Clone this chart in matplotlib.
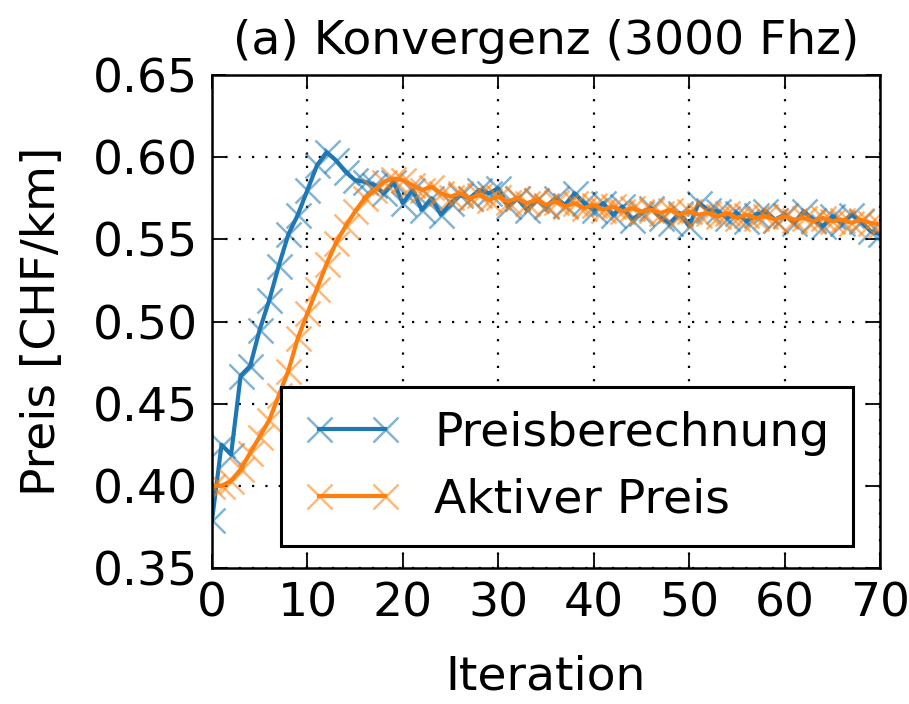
import numpy as np
import matplotlib
matplotlib.use("Agg")
import matplotlib.pyplot as plt
from matplotlib.colors import to_rgba

iterations = np.arange(0, 71)

# Preisberechnung (computed price)
preisberechnung = [
    0.379, 0.425, 0.419, 0.467, 0.473, 0.495, 0.513, 0.534, 0.553, 0.565,
    0.580, 0.595, 0.603, 0.598, 0.591, 0.586, 0.585, 0.583, 0.578, 0.585,
    0.572, 0.580, 0.568, 0.575, 0.565, 0.572, 0.577, 0.575, 0.580, 0.578,
    0.581, 0.570, 0.575, 0.568, 0.574, 0.570, 0.575, 0.571, 0.578, 0.572,
    0.568, 0.572, 0.565, 0.570, 0.562, 0.566, 0.569, 0.563, 0.560, 0.566,
    0.558, 0.572, 0.568, 0.567, 0.563, 0.566, 0.561, 0.565, 0.567, 0.562,
    0.565, 0.560, 0.567, 0.562, 0.558, 0.564, 0.560, 0.565, 0.561, 0.555,
    0.553,
]

# Aktiver Preis (active price)
aktiver_preis = [
    0.400, 0.400, 0.403, 0.410, 0.420, 0.430, 0.440, 0.455, 0.470, 0.490,
    0.505, 0.520, 0.535, 0.548, 0.558, 0.567, 0.575, 0.580, 0.585, 0.587,
    0.586, 0.583, 0.580, 0.582, 0.578, 0.576, 0.578, 0.575, 0.577, 0.574,
    0.576, 0.573, 0.575, 0.572, 0.574, 0.571, 0.573, 0.570, 0.572, 0.569,
    0.571, 0.568, 0.570, 0.567, 0.569, 0.567, 0.568, 0.566, 0.568, 0.565,
    0.567, 0.565, 0.566, 0.564, 0.566, 0.563, 0.565, 0.563, 0.564, 0.562,
    0.564, 0.562, 0.563, 0.561, 0.563, 0.561, 0.562, 0.560, 0.562, 0.560,
    0.559,
]

plt.rcParams["font.family"] = "DejaVu Sans"
fs = 34

fig = plt.figure(figsize=(9.09, 7.04), dpi=100)
ax = fig.add_axes([212 / 909, 1 - 568 / 704, (880 - 212) / 909, (568 - 75) / 704])

blue = "#1f77b4"
orange = "#ff7f0e"
for y, c, lab in [(preisberechnung, blue, "Preisberechnung"),
                  (aktiver_preis, orange, "Aktiver Preis")]:
    ax.plot(iterations, y, "-", color=c, lw=3.0, marker="x", ms=18,
            mew=1.8, mec=to_rgba(c, 0.55), label=lab)

ax.set_xlim(0, 70)
ax.set_ylim(0.35, 0.65)
ax.set_xticks(np.arange(0, 71, 10))
yt = np.arange(0.35, 0.651, 0.05)
ax.set_yticks(yt)
ax.set_yticklabels([f"{v:.2f}" for v in yt])
ax.tick_params(direction="in", top=True, right=True, length=10, width=1.3,
               labelsize=fs, pad=10)
for s in ax.spines.values():
    s.set_linewidth(1.8)
ax.grid(True, linestyle=(0, (1, 5)), color="black", linewidth=1.6)

ax.set_xlabel("Iteration", fontsize=fs, labelpad=20)
ax.set_ylabel("Preis [CHF/km]", fontsize=fs, labelpad=20)
ax.set_title("(a) Konvergenz (3000 Fhz)", fontsize=fs, pad=15)

leg = ax.legend(loc="lower right", numpoints=2, fancybox=False,
                fontsize=fs, handlelength=2.0, borderpad=0.5,
                labelspacing=0.45, handletextpad=0.75, borderaxespad=0,
                bbox_to_anchor=(0.96, 0.045))
leg.get_frame().set_edgecolor("black")
leg.get_frame().set_linewidth(2.2)
leg.get_frame().set_alpha(1)

fig.savefig("out.png", dpi=100)
